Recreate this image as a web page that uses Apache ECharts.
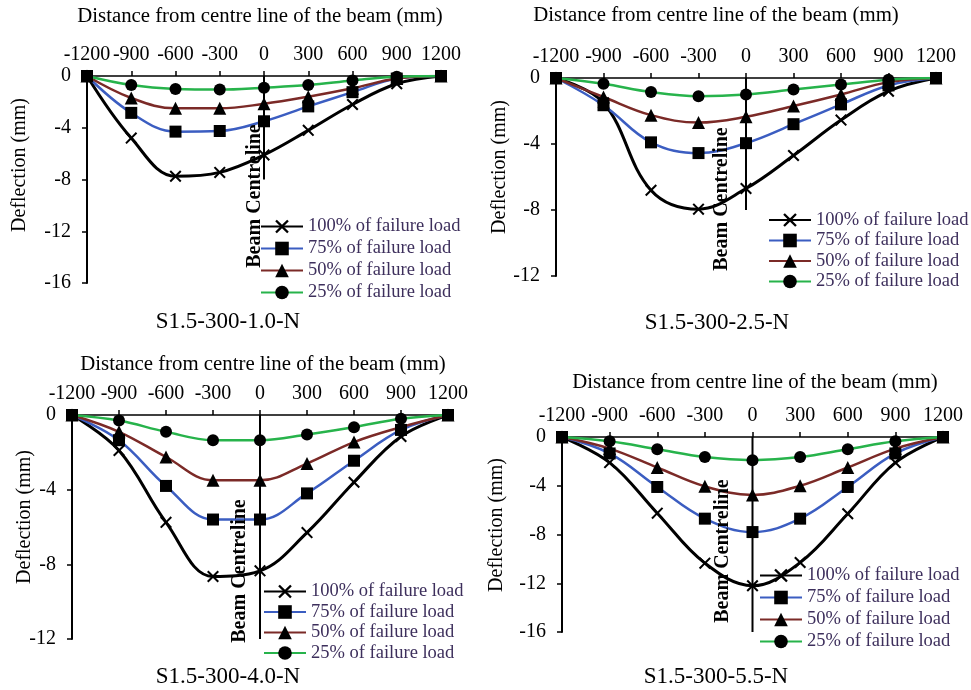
<!DOCTYPE html>
<html>
<head>
<meta charset="utf-8">
<script src="https://cdn.jsdelivr.net/npm/echarts@6/dist/echarts.min.js"></script>
<style>
  html, body { margin: 0; padding: 0; background: #ffffff; }
  #chart { width: 971px; height: 690px; }
</style>
</head>
<body>
<div id="chart"></div>
<script>
// Distance of each gauge from the beam centre line (mm)
const distances = [-1200, -900, -600, -300, 0, 300, 600, 900, 1200];
const xTicks = [-1200, -900, -600, -300, 0, 300, 600, 900, 1200];

// Load stage labels
const loadNames = ['100% of failure load', '75% of failure load', '50% of failure load', '25% of failure load'];

// S1.5-300-1.0-N deflections (mm)
const s10_100 = [0, -4.8, -7.75, -7.45, -6.1, -4.2, -2.2, -0.6, 0];
const s10_75  = [0, -2.85, -4.3, -4.25, -3.5, -2.35, -1.25, -0.2, 0];
const s10_50  = [0, -1.7, -2.5, -2.5, -2.15, -1.6, -0.95, -0.2, 0];
const s10_25  = [0, -0.7, -1.0, -1.05, -0.9, -0.7, -0.35, -0.05, 0];

// S1.5-300-2.5-N deflections (mm)
const s25_100 = [0, -1.5, -6.8, -7.95, -6.7, -4.7, -2.55, -0.8, 0];
const s25_75  = [0, -1.65, -3.9, -4.55, -3.95, -2.8, -1.6, -0.45, 0];
const s25_50  = [0, -1.15, -2.25, -2.7, -2.35, -1.7, -1.0, -0.25, 0];
const s25_25  = [0, -0.35, -0.85, -1.1, -1.0, -0.7, -0.4, -0.1, 0];

// S1.5-300-4.0-N deflections (mm)
const s40_100 = [0, -1.9, -5.75, -8.65, -8.35, -6.3, -3.6, -1.15, 0];
const s40_75  = [0, -1.35, -3.8, -5.6, -5.6, -4.2, -2.45, -0.8, 0];
const s40_50  = [0, -0.9, -2.25, -3.5, -3.5, -2.6, -1.45, -0.65, 0];
const s40_25  = [0, -0.3, -0.9, -1.35, -1.35, -1.05, -0.65, -0.2, 0];

// S1.5-300-5.5-N deflections (mm)
const s55_100 = [0, -2.1, -6.25, -10.35, -12.2, -10.3, -6.3, -2.1, 0];
const s55_75  = [0, -1.35, -4.1, -6.7, -7.8, -6.7, -4.1, -1.35, 0];
const s55_50  = [0, -0.95, -2.5, -4.05, -4.75, -4.0, -2.5, -0.95, 0];
const s55_25  = [0, -0.35, -1.0, -1.65, -1.9, -1.65, -1.0, -0.35, 0];

// Specimen names, y-axis minimum and length of the drawn centreline
const specimens = ['S1.5-300-1.0-N', 'S1.5-300-2.5-N', 'S1.5-300-4.0-N', 'S1.5-300-5.5-N'];
const yMins = [-16, -12, -12, -16];
const centrelineEnds = [-8, -8, -12, -16];
const panelData = [
  [s10_100, s10_75, s10_50, s10_25],
  [s25_100, s25_75, s25_50, s25_25],
  [s40_100, s40_75, s40_50, s40_25],
  [s55_100, s55_75, s55_50, s55_25]
];

// ---- layout and styling ----
const FONT = "'Liberation Serif', 'Times New Roman', serif";
const lineColors = ['#000000', '#3b5dc1', '#7b2a27', '#27b34b'];
const crossPath = 'path://M0,1.2L1.2,0L5,3.8L8.8,0L10,1.2L6.2,5L10,8.8L8.8,10L5,6.2L1.2,10L0,8.8L3.8,5Z';
const symbols = [crossPath, 'rect', 'triangle', 'circle'];
const symbolSizes = [12, 12, 13, 12];

const grids = [
  { left: 87,  top: 76,  width: 354, height: 207 },
  { left: 556, top: 78,  width: 380, height: 198 },
  { left: 72,  top: 415, width: 376, height: 224 },
  { left: 562, top: 437, width: 381, height: 195 }
];
const legendPos = [
  { left: 260, top: 217, gap: 3 },
  { left: 768, top: 210.5, gap: 1.5 },
  { left: 263, top: 582, gap: 1.5 },
  { left: 759, top: 566, gap: 3 }
];
const xTitlePos = [[260, 17], [716, 16], [263, 365], [755, 383]];
const yTitlePos = [[20, 165], [500, 167], [25, 517], [497, 525]];
const subTitlePos = [[228, 322], [717, 323], [228, 677], [716, 677]];
const centreTextPos = [[255, 196], [722, 199], [240, 571], [723, 551]];

const xAxes = [], yAxes = [], series = [], legends = [], graphics = [];

for (let p = 0; p < 4; p++) {
  xAxes.push({
    type: 'value', gridIndex: p, position: 'top',
    min: xTicks[0], max: xTicks[xTicks.length - 1], interval: xTicks[1] - xTicks[0],
    axisLine: { show: true, onZero: false, lineStyle: { color: '#000', width: 1.5 } },
    axisTick: { show: true, inside: false, length: 5, lineStyle: { color: '#000', width: 1.5 } },
    axisLabel: { color: '#000', fontFamily: FONT, fontSize: 20, margin: 11, formatter: v => String(v) },
    splitLine: { show: false }
  });
  yAxes.push({
    type: 'value', gridIndex: p,
    min: yMins[p], max: 0, interval: 4,
    axisLine: { show: true, onZero: false, lineStyle: { color: '#000', width: 2 } },
    axisTick: { show: true, inside: false, length: 5, lineStyle: { color: '#000', width: 1.5 } },
    axisLabel: { color: '#000', fontFamily: FONT, fontSize: 20, margin: 16, formatter: v => String(v) },
    splitLine: { show: false }
  });

  // beam centreline
  series.push({
    type: 'line', xAxisIndex: p, yAxisIndex: p, name: 'centreline',
    data: [[0, 0], [0, centrelineEnds[p]]],
    showSymbol: false, symbol: 'none', silent: true, z: 1,
    lineStyle: { color: '#000', width: 2 }
  });

  for (let s = 0; s < 4; s++) {
    const vals = panelData[p][s];
    series.push({
      type: 'line', xAxisIndex: p, yAxisIndex: p, name: loadNames[s],
      data: distances.map((d, i) => [d, vals[i]]),
      smooth: 0.38,
      symbol: symbols[s], symbolSize: symbolSizes[s],
      lineStyle: { color: lineColors[s], width: s === 0 ? 3 : 2.5 },
      itemStyle: { color: '#000', borderWidth: 0 },
      z: 3
    });
  }

  legends.push({
    data: loadNames.slice(),
    orient: 'vertical',
    left: legendPos[p].left, top: legendPos[p].top,
    itemWidth: 42, itemHeight: 17, itemGap: legendPos[p].gap,
    padding: 0,
    selectedMode: false,
    textStyle: { color: '#3d2f5c', fontFamily: FONT, fontSize: 18.5, padding: [0, 0, 0, 0] }
  });

  graphics.push({
    type: 'text', x: xTitlePos[p][0], y: xTitlePos[p][1],
    style: { text: 'Distance from centre line of the beam (mm)', fill: '#000', fontFamily: FONT, fontSize: 20.8, align: 'center', verticalAlign: 'middle' }
  });
  graphics.push({
    type: 'text', x: yTitlePos[p][0], y: yTitlePos[p][1], rotation: Math.PI / 2,
    style: { text: 'Deflection (mm)', fill: '#000', fontFamily: FONT, fontSize: 20, align: 'center', verticalAlign: 'middle' }
  });
  graphics.push({
    type: 'text', x: subTitlePos[p][0], y: subTitlePos[p][1],
    style: { text: specimens[p], fill: '#000', fontFamily: FONT, fontSize: 23, align: 'center', verticalAlign: 'middle' }
  });
  graphics.push({
    type: 'text', x: centreTextPos[p][0], y: centreTextPos[p][1], rotation: Math.PI / 2, z: 10,
    style: { text: 'Beam Centreline', fill: '#000', fontFamily: FONT, fontWeight: 'bold', fontSize: 20, align: 'center', verticalAlign: 'middle' }
  });
}

const chart = echarts.init(document.getElementById('chart'), null, { renderer: 'canvas' });
chart.setOption({
  backgroundColor: '#ffffff',
  animation: false,
  grid: grids.map(g => Object.assign({ outerBoundsMode: 'none', containLabel: false }, g)),
  xAxis: xAxes,
  yAxis: yAxes,
  legend: legends,
  series: series,
  graphic: graphics
});
</script>
</body>
</html>
